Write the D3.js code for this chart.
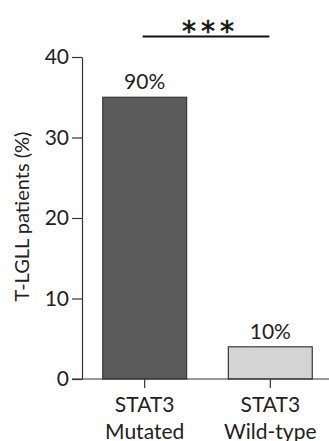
<!DOCTYPE html>
<html>
<head>
<meta charset="utf-8">
<script src="https://cdn.jsdelivr.net/npm/d3@7"></script>
<style>
  html, body { margin: 0; padding: 0; background: #fff; }
  svg { display: block; font-family: Lato, "Open Sans", sans-serif; }
</style>
</head>
<body>
<svg id="chart" width="329" height="441"></svg>
<script>
/*--- Data ---*/
const groups = ["STAT3 Mutated", "STAT3 Wild-type"];
const groupLines = [["STAT3", "Mutated"], ["STAT3", "Wild-type"]];
const patients = [35, 4];
const pctLabels = ["90%", "10%"];
const barFills = ["#5b5b5b", "#d4d4d4"];
const yTicks = [0, 10, 20, 30, 40];
const signif = "***";

/*--- Setup ---*/
const svg = d3.select("#chart");
const W = 329;
const axisX = 82, baseY = 379, topY = 57;

const y = d3.scaleLinear().domain([0, 40]).range([baseY, topY]);
const x = d3.scaleBand().domain(groups).range([axisX, 333])
    .paddingInner(0.332).paddingOuter(0.165);

// y axis
const yAxis = svg.append("g")
    .attr("transform", `translate(${axisX},0)`)
    .call(d3.axisLeft(y).tickValues(yTicks).tickSize(10).tickSizeOuter(0).tickPadding(3));
yAxis.select(".domain").attr("stroke", "#333").attr("stroke-width", 1.2);
yAxis.selectAll(".tick line").attr("stroke", "#333").attr("stroke-width", 1.2);
yAxis.selectAll(".tick text")
    .attr("font-size", 21).attr("fill", "#222")
    .attr("font-family", "Lato, sans-serif");

// bars
svg.selectAll("rect.bar")
    .data(groups).join("rect").attr("class", "bar")
    .attr("x", d => x(d))
    .attr("y", (d, i) => y(patients[i]))
    .attr("width", x.bandwidth())
    .attr("height", (d, i) => baseY - y(patients[i]))
    .attr("fill", (d, i) => barFills[i])
    .attr("stroke", "#3a3a3a")
    .attr("stroke-width", 1.2);

// percent labels
svg.selectAll("text.pct")
    .data(groups).join("text").attr("class", "pct")
    .attr("x", d => x(d) + x.bandwidth() / 2)
    .attr("y", (d, i) => y(patients[i]) - 8)
    .attr("text-anchor", "middle")
    .attr("font-size", 21).attr("fill", "#222")
    .text((d, i) => pctLabels[i]);

// x axis line (extends to the right edge)
svg.append("line")
    .attr("x1", axisX - 10).attr("x2", W)
    .attr("y1", baseY).attr("y2", baseY)
    .attr("stroke", "#333").attr("stroke-width", 1.2);

// x ticks
svg.selectAll("line.xtick")
    .data(groups).join("line").attr("class", "xtick")
    .attr("x1", d => x(d) + x.bandwidth() / 2)
    .attr("x2", d => x(d) + x.bandwidth() / 2)
    .attr("y1", baseY).attr("y2", baseY + 9)
    .attr("stroke", "#333").attr("stroke-width", 1.2);

// x labels
svg.selectAll("text.xlab")
    .data(groups).join("text").attr("class", "xlab")
    .attr("x", d => x(d) + x.bandwidth() / 2)
    .attr("y", 412)
    .attr("text-anchor", "middle")
    .attr("font-size", 21).attr("fill", "#222")
    .each(function (d, i) {
        const t = d3.select(this);
        groupLines[i].forEach((ln, j) => {
            t.append("tspan")
                .attr("x", x(d) + x.bandwidth() / 2)
                .attr("dy", j === 0 ? 0 : 26.5)
                .text(ln);
        });
    });

// y axis title
svg.append("text")
    .attr("transform", `translate(29,${(128 + 305) / 2}) rotate(-90)`)
    .attr("text-anchor", "middle")
    .attr("font-size", 20).attr("fill", "#222")
    .text("T-LGLL patients (%)");

// significance bracket
const c1 = x(groups[0]) + x.bandwidth() / 2;
const c2 = x(groups[1]) + x.bandwidth() / 2;
svg.append("line")
    .attr("x1", c1 - 2).attr("x2", c2 - 1)
    .attr("y1", 36.5).attr("y2", 36.5)
    .attr("stroke", "#111").attr("stroke-width", 2);
svg.append("text")
    .attr("x", (c1 + c2) / 2 + 3)
    .attr("y", 41)
    .attr("text-anchor", "middle")
    .attr("font-size", 28).attr("fill", "#111")
    .attr("stroke", "#111").attr("stroke-width", 0.6)
    .attr("font-family", "'DejaVu Sans', sans-serif")
    .attr("letter-spacing", 5)
    .text(signif);
</script>
</body>
</html>
